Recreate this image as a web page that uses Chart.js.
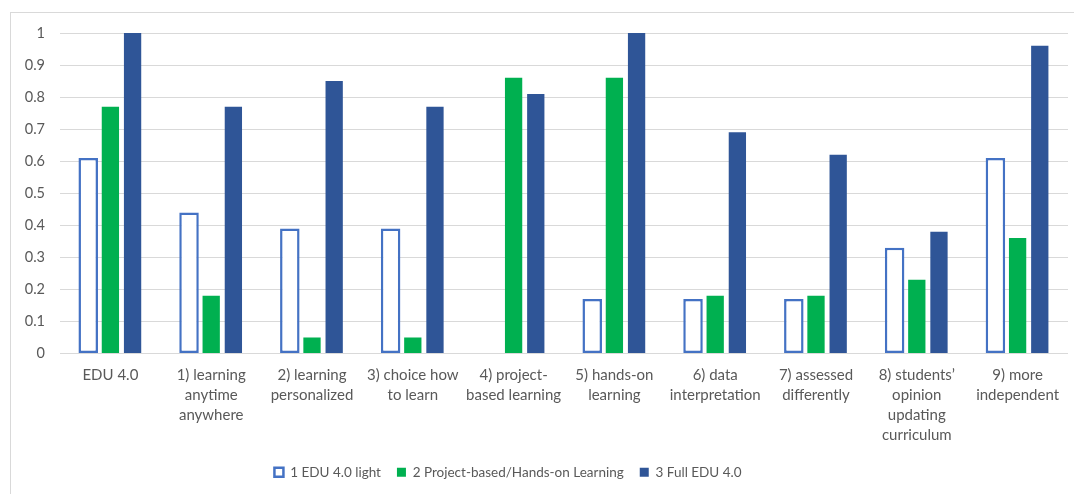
<!DOCTYPE html>
<html>
<head>
<meta charset="utf-8">
<script src="https://cdn.jsdelivr.net/npm/chart.js@4"></script>
<style>
  body { margin: 0; background: #fff; overflow: hidden; }
  #frame { position: absolute; left: 10px; top: 12px; width: 1100px; height: 520px; border: 1px solid #d9d9d9; }
  #myChart { position: absolute; left: 0; top: 0; }
</style>
</head>
<body>
<div id="frame"></div>
<canvas id="myChart" width="1074" height="494"></canvas>
<script>
// categories (multi-line x labels)
const categories = [
    ['EDU 4.0'],
    ['1) learning', 'anytime', 'anywhere'],
    ['2) learning', 'personalized'],
    ['3) choice how', 'to learn'],
    ['4) project-', 'based learning'],
    ['5) hands-on', 'learning'],
    ['6) data', 'interpretation'],
    ['7) assessed', 'differently'],
    ['8) students\u2019', 'opinion', 'updating', 'curriculum'],
    ['9) more', 'independent']
]

// series values
const eduLight = [0.61, 0.44, 0.39, 0.39, 0, 0.17, 0.17, 0.17, 0.33, 0.61]
const projectBased = [0.77, 0.18, 0.05, 0.05, 0.86, 0.86, 0.18, 0.18, 0.23, 0.36]
const fullEdu = [1.0, 0.77, 0.85, 0.77, 0.81, 1.0, 0.69, 0.62, 0.38, 0.96]

const textColor = '#595959'
const fontFamily = 'Lato, "Liberation Sans", sans-serif'

const data = {
    labels: categories,
    datasets: [{
        label: '1 EDU 4.0 light',
        data: eduLight,
        backgroundColor: '#ffffff',
        borderColor: '#4472c4',
        borderWidth: 2.5,
        borderSkipped: false,
        barPercentage: 0.88
    }, {
        label: '2 Project-based/Hands-on Learning',
        data: projectBased,
        backgroundColor: '#00b050',
        borderWidth: 0
    }, {
        label: '3 Full EDU 4.0',
        data: fullEdu,
        backgroundColor: '#2f5597',
        borderWidth: 0
    }]
};

// legend sits a little left of centre
const legendShift = {
    id: 'legendShift',
    afterLayout(chart) {
        chart.legend.left -= 26
        chart.legend.right -= 26
    }
}

const config = {
    type: 'bar',
    data,
    plugins: [legendShift],
    options: {
        responsive: false,
        animation: false,
        layout: {
            padding: { top: 33, right: 6, bottom: 5, left: 0 }
        },
        datasets: {
            bar: {
                categoryPercentage: 0.66,
                barPercentage: 0.78
            }
        },
        scales: {
            x: {
                grid: { display: false },
                border: { display: false },
                ticks: {
                    color: textColor,
                    font: { family: fontFamily, size: 15, lineHeight: 1.33 },
                    maxRotation: 0,
                    autoSkip: false,
                    padding: 4
                },
                // 4 label lines + padding
                afterFit: scale => { scale.height = 96 }
            },
            y: {
                min: 0,
                max: 1,
                border: { display: false },
                grid: { color: '#d9d9d9', lineWidth: 1, drawTicks: false },
                ticks: {
                    stepSize: 0.1,
                    color: textColor,
                    font: { family: fontFamily, size: 14.5 },
                    padding: 15,
                    callback: v => String(Math.round(v * 10) / 10)
                },
                afterFit: scale => { scale.width = 60 }
            }
        },
        plugins: {
            legend: {
                position: 'bottom',
                labels: {
                    color: textColor,
                    font: { family: fontFamily, size: 13.5 },
                    boxWidth: 9,
                    boxHeight: 9,
                    padding: 16
                }
            },
            tooltip: { enabled: false }
        }
    }
};

const myChart = new Chart(document.getElementById('myChart'), config);
</script>
</body>
</html>
